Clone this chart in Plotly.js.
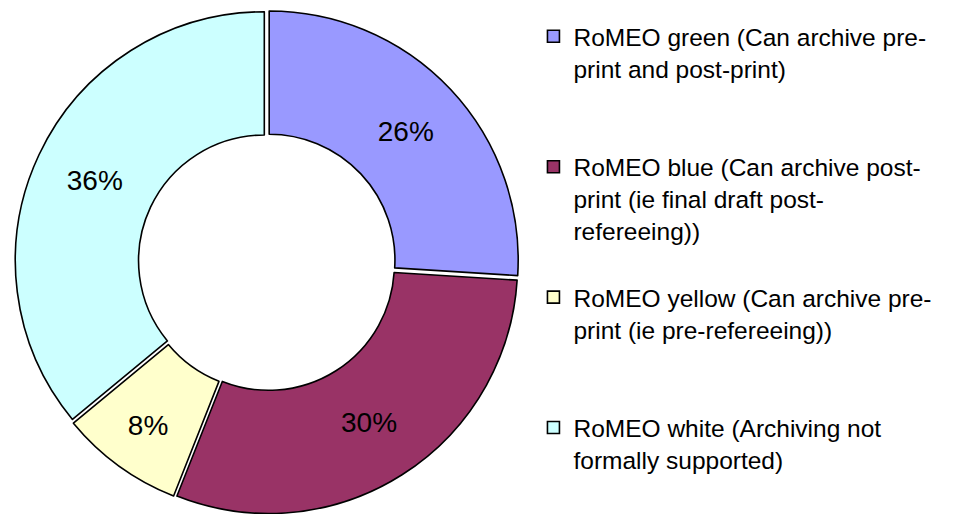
<!DOCTYPE html>
<html>
<head>
<meta charset="utf-8">
<script src="https://cdn.plot.ly/plotly-3.0.1.min.js"></script>
<style>html,body{margin:0;padding:0;background:#fff;}#chart{width:956px;height:514px;}</style>
</head>
<body>
<div id="chart"></div>
<script>
const categories = [
  "RoMEO green (Can archive pre-<br>print and post-print)<br> <br> ",
  "RoMEO blue (Can archive post-<br>print (ie final draft post-<br>refereeing))<br> ",
  "RoMEO yellow (Can archive pre-<br>print (ie pre-refereeing))<br> <br> ",
  "RoMEO white (Archiving not<br>formally supported)"
];
const shares = [26, 30, 8, 36];
const sliceColors = ["#9999FF", "#993366", "#FFFFCC", "#CCFFFF"];

const trace = {
  type: "pie",
  labels: categories,
  values: shares,
  sort: false,
  direction: "clockwise",
  rotation: 0,
  hole: 0.505,
  pull: [0.012, 0.012, 0.012, 0.012],
  marker: {colors: sliceColors, line: {color: "#000000", width: 1.6}},
  textinfo: "percent",
  texttemplate: "%{percent:.0%}",
  textposition: "inside",
  insidetextorientation: "horizontal",
  textfont: {family: "Arial, 'Liberation Sans', sans-serif", size: 28, color: "#000000"},
  domain: {x: [0.0157, 0.5429], y: [0, 0.9805]},
  hoverinfo: "none"
};

const layout = {
  width: 956,
  height: 514,
  margin: {l: 0, r: 0, t: 0, b: 0},
  paper_bgcolor: "#ffffff",
  showlegend: true,
  legend: {
    x: 0.558, y: 0.973, xanchor: "left", yanchor: "top",
    valign: "top",
    font: {family: "Arial, 'Liberation Sans', sans-serif", size: 24.5, color: "#000000"},
    bgcolor: "rgba(0,0,0,0)", borderwidth: 0,
    traceorder: "normal"
  }
};

Plotly.newPlot("chart", [trace], layout, {staticPlot: true});
</script>
</body>
</html>
